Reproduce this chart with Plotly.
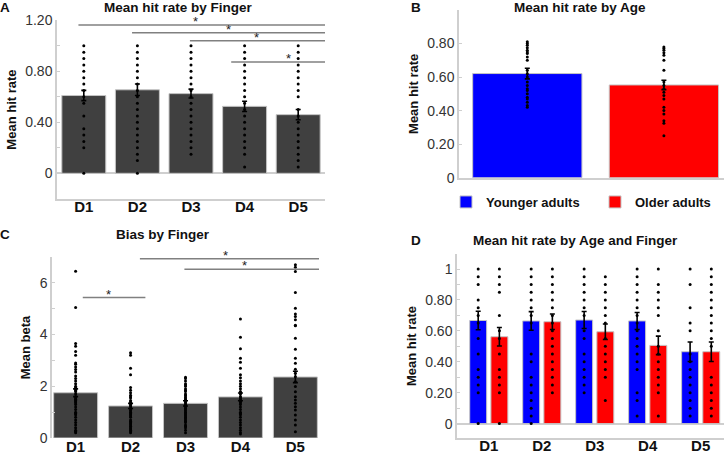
import plotly.graph_objects as go

W, H = 724, 454
FONT = "Liberation Sans, Arial, sans-serif"

# ---------------- data ----------------
fingers = ["D1", "D2", "D3", "D4", "D5"]
groups = ["Younger adults", "Older adults"]

# Panel A: mean hit rate by finger
hit_mean = [0.61, 0.655, 0.625, 0.525, 0.46]
hit_sem = [0.04, 0.045, 0.035, 0.04, 0.04]
hit_dots = [
    [1.0, 0.95, 0.9, 0.85, 0.8, 0.75, 0.7, 0.65, 0.6, 0.55, 0.45, 0.35, 0.3, 0.25, 0.2, 0.0],
    [1.0, 0.95, 0.9, 0.85, 0.8, 0.75, 0.7, 0.65, 0.6, 0.55, 0.5, 0.45, 0.4, 0.35, 0.3, 0.25, 0.2, 0.15, 0.1, 0.0],
    [1.0, 0.95, 0.9, 0.85, 0.8, 0.75, 0.7, 0.65, 0.6, 0.55, 0.5, 0.45, 0.4, 0.35, 0.3, 0.25, 0.2, 0.15],
    [1.0, 0.95, 0.9, 0.85, 0.8, 0.75, 0.7, 0.65, 0.6, 0.55, 0.5, 0.45, 0.4, 0.35, 0.3, 0.25, 0.2, 0.15, 0.05],
    [1.0, 0.95, 0.9, 0.85, 0.8, 0.75, 0.7, 0.65, 0.6, 0.5, 0.45, 0.4, 0.35, 0.3, 0.25, 0.2, 0.15, 0.1, 0.05],
]
# significance bars A: (from index, to index, y level, star position)
sigA_from = [-0.1, 0.9, 1.98, 2.75]
sigA_to = [4.5, 4.5, 4.5, 4.5]
sigA_y = [1.163, 1.103, 1.04, 0.873]
sigA_star = [2.09, 2.7, 3.23, 3.82]

# Panel B: mean hit rate by age
age_mean = [0.621, 0.553]
age_sem = [0.032, 0.028]
age_dots = [
    [0.81, 0.80, 0.79, 0.775, 0.76, 0.75, 0.74, 0.72, 0.70, 0.64, 0.62, 0.60,
     0.57, 0.55, 0.53, 0.52, 0.50, 0.48, 0.47, 0.45, 0.43, 0.42],
    [0.78, 0.77, 0.76, 0.745, 0.73, 0.70, 0.64, 0.57, 0.55, 0.53, 0.51, 0.49,
     0.47, 0.42, 0.40, 0.38, 0.34, 0.325, 0.25],
]

# Panel C: bias (beta) by finger
beta_mean = [1.75, 1.24, 1.34, 1.59, 2.36]
beta_sem = [0.15, 0.1, 0.1, 0.15, 0.22]
beta_dots = [
    [6.45, 5.05, 3.65, 3.55, 3.35, 3.2, 2.9, 2.85, 2.75, 2.65, 2.55, 2.4, 2.3, 2.2, 2.1, 2.0,
     1.95, 1.9, 1.85, 1.8, 1.7, 1.6, 1.55, 1.5, 1.45, 1.4, 1.35, 1.3, 1.2, 1.1, 1.0, 0.95,
     0.9, 0.8, 0.7, 0.6, 0.5, 0.4, 0.3, 0.25, 0.2],
    [3.3, 3.2, 2.7, 2.45, 1.95, 1.85, 1.75, 1.65, 1.6, 1.55, 1.45, 1.4, 1.35, 1.3, 1.25, 1.2,
     1.1, 1.05, 1.0, 0.95, 0.9, 0.85, 0.8, 0.7, 0.65, 0.6, 0.55, 0.5, 0.45, 0.4, 0.35, 0.3,
     0.25, 0.2],
    [2.35, 2.3, 2.2, 2.1, 2.05, 2.0, 1.9, 1.85, 1.8, 1.7, 1.65, 1.6, 1.55, 1.5, 1.45, 1.4,
     1.35, 1.3, 1.25, 1.2, 1.15, 1.1, 1.05, 1.0, 0.95, 0.9, 0.85, 0.8, 0.75, 0.7, 0.65, 0.6,
     0.5, 0.45, 0.4, 0.3, 0.2],
    [4.6, 3.9, 3.45, 3.08, 2.93, 2.7, 2.45, 2.33, 2.2, 2.1, 2.0, 1.9, 1.8, 1.75, 1.7, 1.6,
     1.55, 1.5, 1.45, 1.4, 1.35, 1.3, 1.2, 1.1, 1.0, 0.95, 0.9, 0.8, 0.7, 0.6, 0.5, 0.4,
     0.3, 0.21, 0.15],
    [6.7, 6.6, 6.44, 5.63, 5.02, 4.8, 4.7, 4.57, 4.36, 4.34, 3.86, 3.43, 3.08, 2.89, 2.66,
     2.5, 2.37, 2.18, 1.99, 1.79, 1.6, 1.47, 1.34, 1.21, 1.08, 0.89, 0.7, 0.5, 0.24],
]
sigC_from = [0.13, 1.17, 1.98]
sigC_to = [1.27, 4.44, 4.44]
sigC_y = [5.43, 6.93, 6.53]
sigC_star = [0.6, 2.73, 3.07]

# Panel D: mean hit rate by age and finger
young_mean = [0.667, 0.664, 0.67, 0.664, 0.465]
young_sem = [0.06, 0.06, 0.055, 0.055, 0.063]
old_mean = [0.562, 0.659, 0.594, 0.506, 0.465]
old_sem = [0.06, 0.05, 0.05, 0.06, 0.063]
young_dots = [
    [1.0, 0.95, 0.9, 0.8, 0.75, 0.7, 0.65, 0.55, 0.45, 0.35, 0.3, 0.25, 0.2, 0.0],
    [1.0, 0.95, 0.9, 0.85, 0.8, 0.75, 0.7, 0.65, 0.45, 0.4, 0.3, 0.25, 0.2, 0.15, 0.1, 0.05, 0.0],
    [1.0, 0.95, 0.9, 0.85, 0.8, 0.75, 0.7, 0.6, 0.55, 0.45, 0.4, 0.35, 0.3, 0.25, 0.2],
    [1.0, 0.95, 0.9, 0.85, 0.8, 0.75, 0.7, 0.65, 0.6, 0.55, 0.5, 0.45, 0.4, 0.35, 0.2, 0.15, 0.05],
    [1.0, 0.9, 0.75, 0.65, 0.6, 0.45, 0.4, 0.35, 0.3, 0.25, 0.2, 0.15, 0.1, 0.05],
]
old_dots = [
    [1.0, 0.95, 0.9, 0.85, 0.7, 0.6, 0.55, 0.45, 0.35, 0.3, 0.25, 0.2, 0.0],
    [1.0, 0.95, 0.9, 0.85, 0.8, 0.75, 0.7, 0.65, 0.6, 0.55, 0.5, 0.45, 0.4, 0.35, 0.3, 0.25, 0.2],
    [0.95, 0.9, 0.85, 0.8, 0.75, 0.7, 0.65, 0.55, 0.5, 0.45, 0.4, 0.35, 0.3, 0.15],
    [1.0, 0.9, 0.85, 0.8, 0.75, 0.7, 0.6, 0.5, 0.45, 0.4, 0.35, 0.3, 0.25, 0.2, 0.05],
    [1.0, 0.95, 0.9, 0.85, 0.8, 0.75, 0.7, 0.65, 0.6, 0.55, 0.5, 0.3, 0.25, 0.2, 0.15, 0.1, 0.05],
]

# ---------------- styles ----------------
DARK = "#404040"
BLUE = "#0000ff"
RED = "#ff0000"
OUTLINE = "#c4c4c4"
AXIS = "#cfcfcf"
SIG = "#808080"
TXT = "#333333"


def px_dom(a, b, total):
    return [a / total, b / total]


def ydom(top, bottom):
    return [1 - bottom / H, 1 - top / H]


fig = go.Figure()
err = dict(type="data", color="black", thickness=1.6, width=2.5)
dot = dict(color="black", size=3, line=dict(width=0))

# ---- Panel A ----
idx = list(range(len(fingers)))
fig.add_trace(go.Bar(x=idx, y=hit_mean, width=0.82, marker=dict(color=DARK, line=dict(color=OUTLINE, width=1)),
                     error_y=dict(array=hit_sem, **err), xaxis="x", yaxis="y", showlegend=False))
ax, ay = [], []
for i, vals in enumerate(hit_dots):
    ax += [i] * len(vals)
    ay += vals
fig.add_trace(go.Scatter(x=ax, y=ay, mode="markers", marker=dot, xaxis="x", yaxis="y", showlegend=False,
                         cliponaxis=False))

# ---- Panel B ----
for g, (name, col) in enumerate(zip(groups, [BLUE, RED])):
    fig.add_trace(go.Bar(x=[g], y=[age_mean[g]], width=0.8, name=name,
                         marker=dict(color=col, line=dict(color=OUTLINE, width=1)),
                         error_y=dict(array=[age_sem[g]], **err), xaxis="x2", yaxis="y2", showlegend=True))
bx, by = [], []
for g, vals in enumerate(age_dots):
    bx += [g] * len(vals)
    by += vals
fig.add_trace(go.Scatter(x=bx, y=by, mode="markers", marker=dot, xaxis="x2", yaxis="y2", showlegend=False))

# ---- Panel C ----
fig.add_trace(go.Bar(x=idx, y=beta_mean, width=0.8, marker=dict(color=DARK, line=dict(color=OUTLINE, width=1)),
                     error_y=dict(array=beta_sem, **err), xaxis="x3", yaxis="y3", showlegend=False))
cx, cy = [], []
for i, vals in enumerate(beta_dots):
    cx += [i] * len(vals)
    cy += vals
fig.add_trace(go.Scatter(x=cx, y=cy, mode="markers", marker=dot, xaxis="x3", yaxis="y3", showlegend=False,
                         cliponaxis=False))

# ---- Panel D ----
fig.add_trace(go.Bar(x=idx, y=young_mean, width=0.32, offset=-0.36, name=groups[0],
                     marker=dict(color=BLUE, line=dict(color=OUTLINE, width=1)),
                     error_y=dict(array=young_sem, **err), xaxis="x4", yaxis="y4", showlegend=False))
fig.add_trace(go.Bar(x=idx, y=old_mean, width=0.32, offset=0.04, name=groups[1],
                     marker=dict(color=RED, line=dict(color=OUTLINE, width=1)),
                     error_y=dict(array=old_sem, **err), xaxis="x4", yaxis="y4", showlegend=False))
dx, dy = [], []
for i, vals in enumerate(young_dots):
    dx += [i - 0.2] * len(vals)
    dy += vals
for i, vals in enumerate(old_dots):
    dx += [i + 0.2] * len(vals)
    dy += vals
fig.add_trace(go.Scatter(x=dx, y=dy, mode="markers", marker=dot, xaxis="x4", yaxis="y4", showlegend=False))

# ---------------- axes ----------------
tickfont = dict(family=FONT, size=14, color=TXT)
xtickfont = dict(family=FONT, size=15, color="#111111", weight="bold")
ytitlefont = dict(family=FONT, size=13, color="#111111", weight="bold")


def xax(domain, rng, anchor, showline=True, standoff=-7):
    return dict(domain=domain, range=rng, anchor=anchor, tickmode="array",
                showgrid=False, zeroline=False, showline=showline, linecolor=AXIS, linewidth=1.5,
                ticks="", tickfont=xtickfont, fixedrange=True, automargin=False, ticklabelstandoff=standoff)


def yax(domain, rng, anchor, tickvals, ticktext, title, zeroline=False):
    return dict(domain=domain, range=rng, anchor=anchor, tickmode="array", tickvals=tickvals, ticktext=ticktext,
                showgrid=False, zeroline=zeroline, zerolinecolor=AXIS, zerolinewidth=1.5,
                showline=True, linecolor=AXIS, linewidth=1.5, ticks="inside", ticklen=3, tickcolor=AXIS,
                tickfont=tickfont, title=dict(text=title, font=ytitlefont, standoff=6), fixedrange=True,
                automargin=False)


xa = xax(px_dom(57, 325, W), [-0.5, 4.5], "y")
xa.update(tickvals=idx, ticktext=fingers)
xb = xax(px_dom(459, 724, W), [-0.5, 1.44], "y2")
xb.update(tickvals=[], ticktext=[])
xc = xax(px_dom(52, 319, W), [-0.43, 4.43], "y3", showline=False, standoff=-2)
xc.update(tickvals=idx, ticktext=fingers)
xd = xax(px_dom(457, 724, W), [-0.6, 4.44], "y4")
xd.update(tickvals=idx, ticktext=fingers)

ya = yax(ydom(20.3, 198.8), [-0.2, 1.2], "x", [0, 0.2, 0.4, 0.6, 0.8, 1.0, 1.2],
         ["0", "", "0.40", "", "0.80", "", "1.20"], "Mean hit rate", zeroline=True)
yb = yax(ydom(10, 177.7), [0, 1.0], "x2", [0, 0.2, 0.4, 0.6, 0.8],
         ["0", "0.20", "0.40", "0.60", "0.80"], "Mean hit rate")
yc = yax(ydom(257, 438), [0, 7], "x3", [0, 1, 2, 3, 4, 5, 6],
         ["0", "", "2", "", "4", "", "6"], "Mean beta")
yd = yax(ydom(254, 438), [-0.093, 1.097], "x4", [0, 0.1, 0.2, 0.3, 0.4, 0.5, 0.6, 0.7, 0.8, 0.9, 1.0],
         ["0", "", "0.20", "", "0.40", "", "0.60", "", "0.80", "", "1"], "Mean hit rate", zeroline=True)

# ---------------- significance bars ----------------
shapes = []
annotations = []
for x0, x1, y, xs in zip(sigA_from, sigA_to, sigA_y, sigA_star):
    shapes.append(dict(type="line", xref="x", yref="y", x0=x0, x1=x1, y0=y, y1=y,
                       line=dict(color=SIG, width=1.5)))
    annotations.append(dict(xref="x", yref="y", x=xs, y=y, text="*", showarrow=False, yanchor="bottom",
                            yshift=-6, font=dict(family=FONT, size=13, color="#222")))
for x0, x1, y, xs in zip(sigC_from, sigC_to, sigC_y, sigC_star):
    shapes.append(dict(type="line", xref="x3", yref="y3", x0=x0, x1=x1, y0=y, y1=y,
                       line=dict(color=SIG, width=1.5)))
    annotations.append(dict(xref="x3", yref="y3", x=xs, y=y, text="*", showarrow=False, yanchor="bottom",
                            yshift=-6, font=dict(family=FONT, size=13, color="#222")))

# ---------------- titles & panel letters ----------------
tfont = dict(family=FONT, size=13.5, color="#111111", weight="bold")
for letter, lx, ly, title, tx in [("A", 5, 7, "Mean hit rate by Finger", 178),
                                   ("B", 416, 7, "Mean hit rate by Age", 580),
                                   ("C", 5, 234, "Bias by Finger", 163),
                                   ("D", 416, 240, "Mean hit rate by Age and Finger", 575)]:
    annotations.append(dict(xref="paper", yref="paper", x=lx / W, y=1 - ly / H, text=letter, showarrow=False,
                            xanchor="center", yanchor="middle", font=tfont))
    annotations.append(dict(xref="paper", yref="paper", x=tx / W, y=1 - ly / H, text=title, showarrow=False,
                            xanchor="center", yanchor="middle", font=tfont))

fig.update_layout(
    width=W, height=H, margin=dict(l=0, r=0, t=0, b=0, autoexpand=False),
    paper_bgcolor="white", plot_bgcolor="white",
    barmode="overlay",
    xaxis=xa, yaxis=ya, xaxis2=xb, yaxis2=yb, xaxis3=xc, yaxis3=yc, xaxis4=xd, yaxis4=yd,
    shapes=shapes, annotations=annotations,
    legend=dict(orientation="h", x=446 / W, y=1 - 202 / H, xanchor="left", yanchor="middle",
                font=dict(family=FONT, size=13, color="#111111", weight="bold"),
                entrywidth=104, entrywidthmode="pixels", itemclick=False, itemdoubleclick=False,
                bgcolor="rgba(0,0,0,0)", tracegroupgap=0),
    showlegend=True,
)

fig.write_html("out.html", config={"displayModeBar": False},
               post_script="document.body.style.margin='0';document.body.style.overflow='hidden';")
